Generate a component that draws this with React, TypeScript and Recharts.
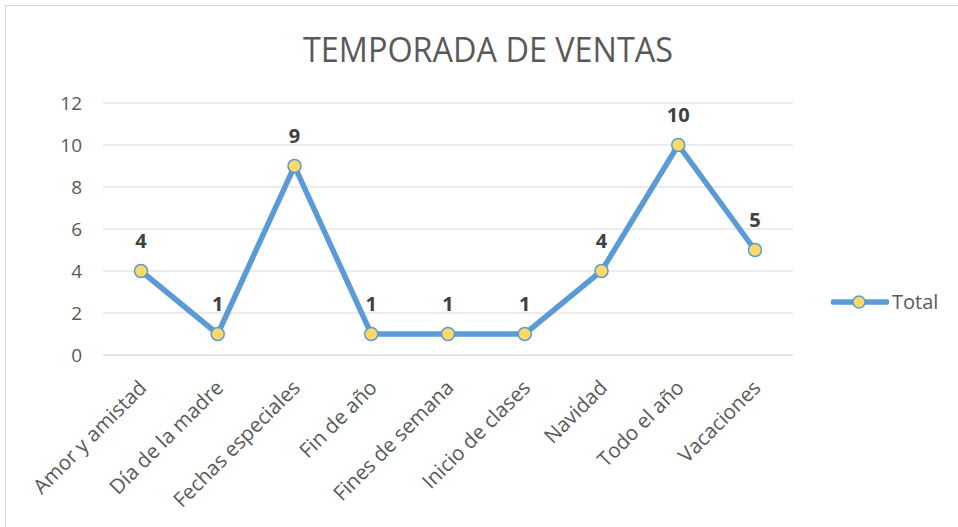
import React from "react";
import { LineChart, Line, XAxis, YAxis, CartesianGrid, LabelList, Legend } from "recharts";

const categories = [
  "Amor y amistad",
  "Día de la madre",
  "Fechas especiales",
  "Fin de año",
  "Fines de semana",
  "Inicio de clases",
  "Navidad",
  "Todo el año",
  "Vacaciones",
];
const totals = [4, 1, 9, 1, 1, 1, 4, 10, 5];
const yTicks = [0, 2, 4, 6, 8, 10, 12];
const seriesName = "Total";
const title = "TEMPORADA DE VENTAS";

const data = categories.map((c, i) => ({ name: c, Total: totals[i] }));

const FONT = "'Open Sans', sans-serif";
const BLUE = "#5B9BD5";
const GOLD = "#FFD966";

const XTick = (props: any) => {
  const { x, y, payload } = props;
  return (
    <g transform={`translate(${x + 7},${y + 34})`}>
      <text
        x={0}
        y={0}
        transform="rotate(-45)"
        textAnchor="end"
        fill="#595959"
        fontSize={20.5}
        fontFamily={FONT}
      >
        {payload.value}
      </text>
    </g>
  );
};

const LegendContent = () => (
  <div style={{ display: "flex", alignItems: "center", fontFamily: FONT, fontSize: 20, color: "#595959", lineHeight: "24px" }}>
    <svg width={58} height={14} style={{ display: "block" }}>
      <line x1={2} y1={7} x2={56} y2={7} stroke={BLUE} strokeWidth={5.5} strokeLinecap="round" />
      <circle cx={28} cy={7} r={6} fill={GOLD} stroke={BLUE} strokeWidth={1.5} />
    </svg>
    <span style={{ marginLeft: 3 }}>{seriesName}</span>
  </div>
);

export default function App() {
  return (
    <div style={{ position: "absolute", left: 0, top: 0, width: 958, height: 527, overflow: "hidden", background: "#fff" }}>
      <style>{`body{margin:0;overflow:hidden;}`}</style>
      <div
        style={{
          position: "absolute",
          left: 5,
          top: 5,
          width: 1000,
          height: 600,
          border: "1px solid #d9d9d9",
          boxSizing: "border-box",
        }}
      />
      <svg width={958} height={80} style={{ position: "absolute", left: 0, top: 0 }}>
        <text
          x={303}
          y={62}
          textLength={370}
          lengthAdjust="spacingAndGlyphs"
          fontFamily={FONT}
          fontSize={35}
          fill="#595959"
        >
          {title}
        </text>
      </svg>
      <div style={{ position: "absolute", left: 0, top: 0 }}>
        <LineChart
          width={958}
          height={527}
          data={data}
          margin={{ top: 103, right: 45, bottom: 12, left: 0 }}
        >
          <CartesianGrid vertical={false} stroke="#d9d9d9" strokeWidth={1.2} />
          <XAxis
            dataKey="name"
            interval={0}
            height={160}
            padding={{ left: 38, right: 38 }}
            axisLine={{ stroke: "#d9d9d9", strokeWidth: 1.2 }}
            tickLine={false}
            tickSize={0}
            tickMargin={0}
            tick={<XTick />}
          />
          <YAxis
            width={103}
            domain={[0, 12]}
            ticks={yTicks}
            axisLine={false}
            tickLine={false}
            tickMargin={15}
            tick={{ fill: "#595959", fontSize: 19, fontFamily: FONT }}
          />
          <Legend
            layout="horizontal"
            verticalAlign="middle"
            align="right"
            content={<LegendContent />}
            wrapperStyle={{ position: "absolute", left: 831, top: 290, width: 120, right: "auto", bottom: "auto" }}
          />
          <Line
            type="linear"
            dataKey="Total"
            name={seriesName}
            stroke={BLUE}
            strokeWidth={5.5}
            isAnimationActive={false}
            dot={{ r: 6.5, fill: GOLD, stroke: BLUE, strokeWidth: 1.5 }}
            activeDot={false}
          >
            <LabelList
              dataKey="Total"
              position="top"
              offset={23}
              fill="#404040"
              fontSize={20}
              fontWeight="bold"
              fontFamily={FONT}
            />
          </Line>
        </LineChart>
      </div>
    </div>
  );
}
